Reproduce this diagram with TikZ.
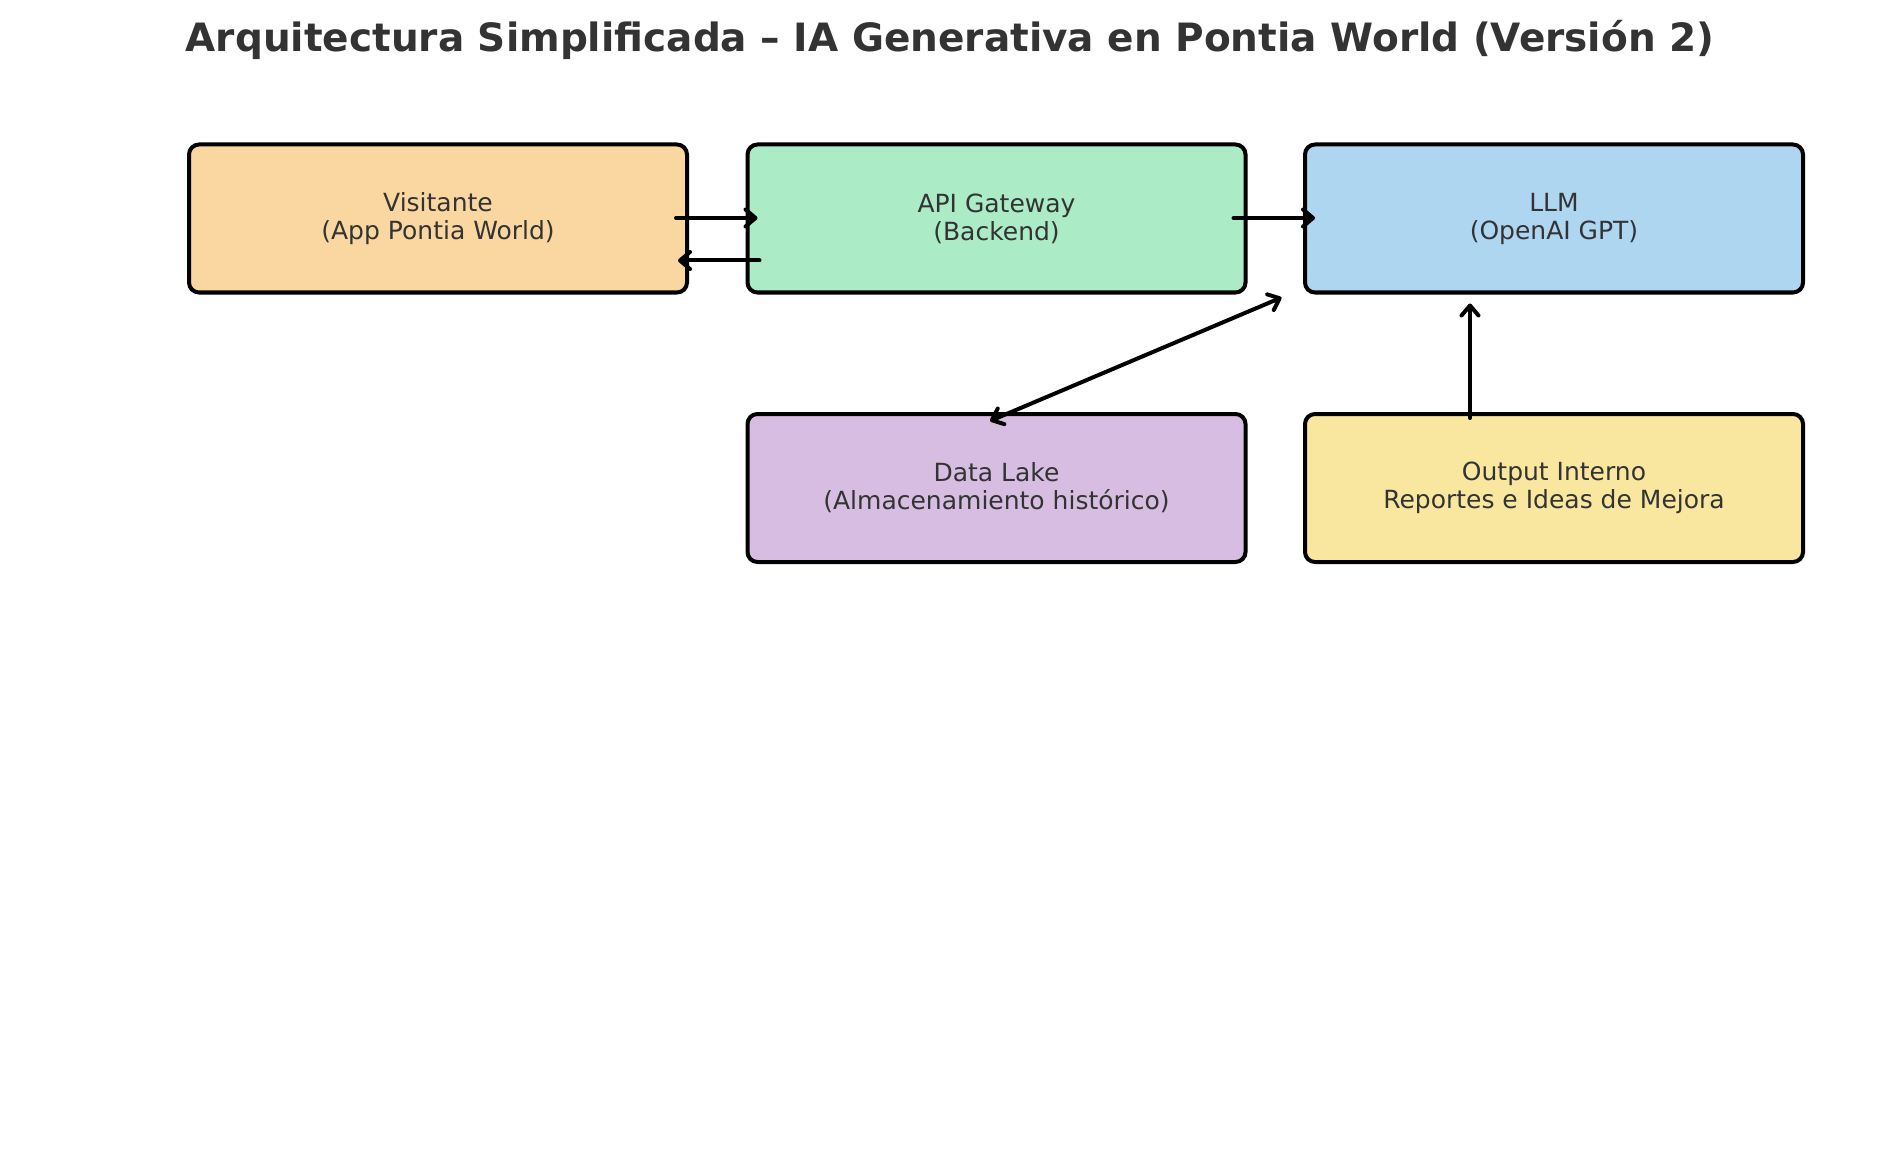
\documentclass[tikz,border=0pt]{standalone}
\usepackage{fontspec}
\setmainfont{DejaVu Sans}
\usetikzlibrary{arrows.meta,calc}
\definecolor{txt}{HTML}{333333}
\definecolor{cVis}{HTML}{FAD7A0}
\definecolor{cApi}{HTML}{ABEBC6}
\definecolor{cLlm}{HTML}{AED6F1}
\definecolor{cDl}{HTML}{D7BDE2}
\definecolor{cOut}{HTML}{F9E79F}
\tikzset{
  blockbox/.style={draw=black, line width=4pt, rounded corners=10pt,
    minimum width=498pt, minimum height=148pt, inner sep=0pt,
    align=center, text=txt, font=\fontsize{25}{28}\selectfont},
  >={Straight Barb[length=10pt,width=17pt,line cap=round,line join=round]},
  conn/.style={line width=4pt, line cap=round, ->},
  conn2/.style={line width=4pt, line cap=round, <->}
}
\begin{document}
\begin{tikzpicture}[x=1pt,y=-1pt]
\useasboundingbox (0,0) rectangle (1900,1166);
\node[font=\bfseries\fontsize{39}{45}\selectfont, text=txt, anchor=base] (title) at (950,52) {Arquitectura Simplificada – IA Generativa en Pontia World (Versión 2)};
\node[blockbox, fill=cVis] (vis) at (438,218.5) {Visitante\\(App Pontia World)};
\node[blockbox, fill=cApi] (api) at (996.5,218.5) {API Gateway\\(Backend)};
\node[blockbox, fill=cLlm] (llm) at (1554,218.5) {LLM\\(OpenAI GPT)};
\node[blockbox, fill=cDl] (dl) at (996.5,488) {Data Lake\\(Almacenamiento histórico)};
\node[blockbox, fill=cOut] (out) at (1554,488) {Output Interno\\Reportes e Ideas de Mejora};
\draw[conn] ($(vis.east)+(-13,-0.5)$) -- ($(api.west)+(12,-0.5)$);
\draw[conn] ($(api.west)+(14,42)$) -- ($(vis.east)+(-11,42)$);
\draw[conn] ($(api.east)+(-14,-0.5)$) -- ($(llm.west)+(12,-0.5)$);
\draw[conn2] ($(dl.north)+(-6.5,9)$) -- ($(api.south east)+(34,3)$);
\draw[conn] ($(out.north)+(-84,6)$) -- ($(llm.south)+(-84,9)$);
\end{tikzpicture}
\end{document}
